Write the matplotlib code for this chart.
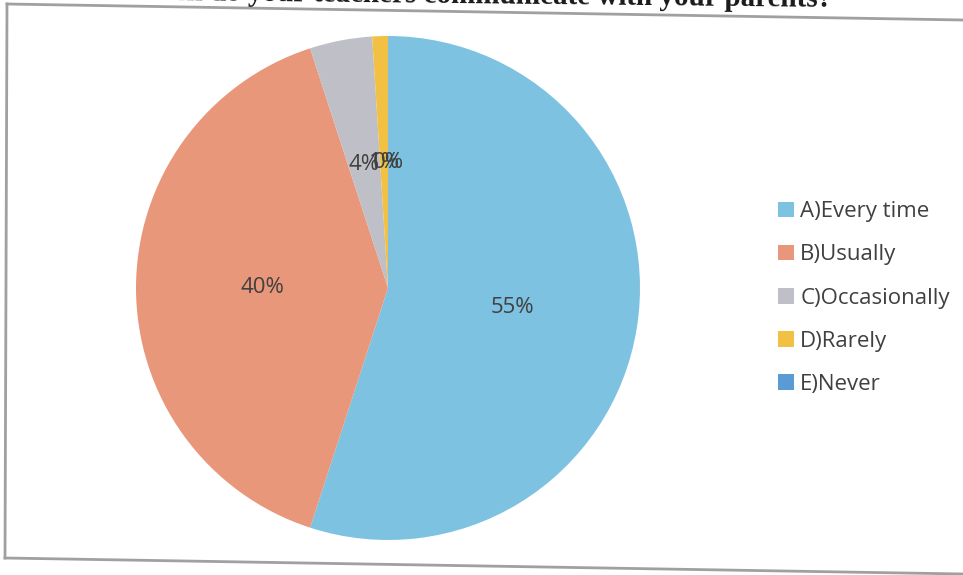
import matplotlib.pyplot as plt
from matplotlib.lines import Line2D

labels = ['A)Every time', 'B)Usually', 'C)Occasionally', 'D)Rarely', 'E)Never']
values = [55, 40, 4, 1, 0]
colors = ['#7dc3e1', '#e9977a', '#bfbfc7', '#f2c144', '#5b9bd5']
title = 'How often do your teachers communicate with your parents?'

W, H = 963, 575
fig = plt.figure(figsize=(W / 100, H / 100), dpi=100)
fig.patch.set_facecolor('white')

# pie centre ~ (388, 287) px, radius ~252 px
cx, cy, r = 388, 288, 252
ax = fig.add_axes([(cx - r) / W, (H - cy - r) / H, 2 * r / W, 2 * r / H])
wedges, texts, autotexts = ax.pie(values, colors=colors, startangle=90, counterclock=False,
                                  autopct='%1.0f%%', pctdistance=0.5,
                                  textprops=dict(color='#404040', fontsize=16, family='Open Sans'))
ax.set_aspect('equal')
ax.set_xlim(-1, 1)
ax.set_ylim(-1, 1)

fig.legend(wedges, labels, loc='center left', bbox_to_anchor=(758 / W, 1 - 298 / H),
           frameon=False, prop=dict(family='Open Sans', size=16), labelcolor='#404040',
           handlelength=0.7, handleheight=0.7, handletextpad=0.3, labelspacing=1.0)

# scanned, slightly skewed chart border
for (x0, y0), (x1, y1) in [((7, 4), (963, 20)), ((7, 4), (5, 558)), ((5, 558), (963, 574))]:
    fig.add_artist(Line2D([x0 / W, x1 / W], [1 - y0 / H, 1 - y1 / H], transform=fig.transFigure,
                          color='#a0a0a0', lw=2))

# title is cut off at the top of the scan (scan is slightly rotated)
fig.text(832 / W, 1 - 7 / H, title, ha='right', va='baseline', fontsize=21, rotation=-0.6,
         rotation_mode='anchor', family='Liberation Serif', weight='bold', color='#1a1a1a')

fig.savefig('out.png', dpi=100)
